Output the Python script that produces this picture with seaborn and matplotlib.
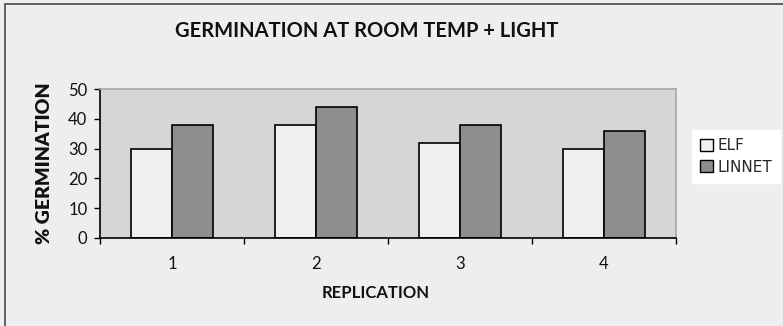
import matplotlib
matplotlib.use("Agg")
import matplotlib.pyplot as plt
import matplotlib.patches as mpatches
from matplotlib.ticker import FixedLocator
import seaborn as sns
import pandas as pd

# Germination percentages per replication for the two varieties
replications = ["1", "2", "3", "4"]
elf = [30, 38, 32, 30]
linnet = [38, 44, 38, 36]
varieties = ["ELF", "LINNET"]
y_ticks = [0, 10, 20, 30, 40, 50]

df = pd.DataFrame({
    "REPLICATION": replications * 2,
    "value": elf + linnet,
    "variety": ["ELF"] * len(elf) + ["LINNET"] * len(linnet),
})

sns.set_theme(style="white")
plt.rcParams["font.family"] = ["Lato", "DejaVu Sans"]

fig = plt.figure(figsize=(7.83, 3.26), dpi=100)
fig.patch.set_facecolor("#eeeeee")
# outer chart frame
fig.add_artist(mpatches.Rectangle((5 / 783, -0.01), 1.02, (326 - 4) / 326 + 0.01,
                                  transform=fig.transFigure, fill=False,
                                  edgecolor="#555555", linewidth=1.3))

ax = fig.add_axes([100 / 783, (326 - 238) / 326, 576 / 783, 149 / 326])
ax.set_facecolor("#d6d6d6")

palette = {"ELF": "#f0f0f0", "LINNET": "#8e8e8e"}
sns.barplot(data=df, x="REPLICATION", y="value", hue="variety",
            hue_order=varieties, order=replications, palette=palette,
            width=0.57, edgecolor="black", linewidth=1.2, saturation=1,
            errorbar=None, ax=ax)

ax.set_xlim(-0.5, 3.5)
ax.set_ylim(0, 50)
ax.set_yticks(y_ticks)
ax.set_yticklabels([str(t) for t in y_ticks], fontsize=12, color="#111111")
ax.xaxis.set_minor_locator(FixedLocator([-0.5, 0.5, 1.5, 2.5, 3.5]))
ax.tick_params(axis="x", which="major", length=0, pad=13, labelsize=12,
               labelcolor="#111111")
ax.tick_params(axis="x", which="minor", length=4, width=1, color="black",
               direction="out", bottom=True)
ax.tick_params(axis="y", which="major", length=4, width=1, color="black",
               direction="out", left=True, pad=5)

for side in ("top", "right"):
    ax.spines[side].set_color("#a8a8a8")
    ax.spines[side].set_linewidth(1.2)
for side in ("left", "bottom"):
    ax.spines[side].set_color("black")
    ax.spines[side].set_linewidth(1.2)

ax.set_xlabel("REPLICATION", fontsize=12, fontweight="bold", color="#111111")
ax.xaxis.set_label_coords((376 - 100) / 576, -(293 - 238) / 149)
ax.xaxis.label.set_va("center")
ax.set_ylabel("% GERMINATION", fontsize=14, fontweight="heavy", labelpad=11,
              color="#111111")

fig.text(367 / 783, 1 - 31 / 326, "GERMINATION AT ROOM TEMP + LIGHT",
         ha="center", va="center", fontsize=14.5, fontweight="bold",
         color="#111111")

ax.get_legend().remove()
handles = [mpatches.Patch(facecolor=palette[v], edgecolor="black", linewidth=1)
           for v in varieties]
leg = fig.legend(handles, varieties, loc="upper left",
                 bbox_to_anchor=(692 / 783, 1 - 130 / 326),
                 frameon=True, fancybox=False, framealpha=1,
                 prop={"family": "DejaVu Sans", "size": 11},
                 handlelength=0.85, handleheight=0.85, handletextpad=0.25,
                 labelspacing=0.4, borderpad=0.55, borderaxespad=0)
leg.get_frame().set_facecolor("white")
leg.get_frame().set_edgecolor("white")

fig.savefig("out.png", dpi=100, facecolor=fig.get_facecolor())
